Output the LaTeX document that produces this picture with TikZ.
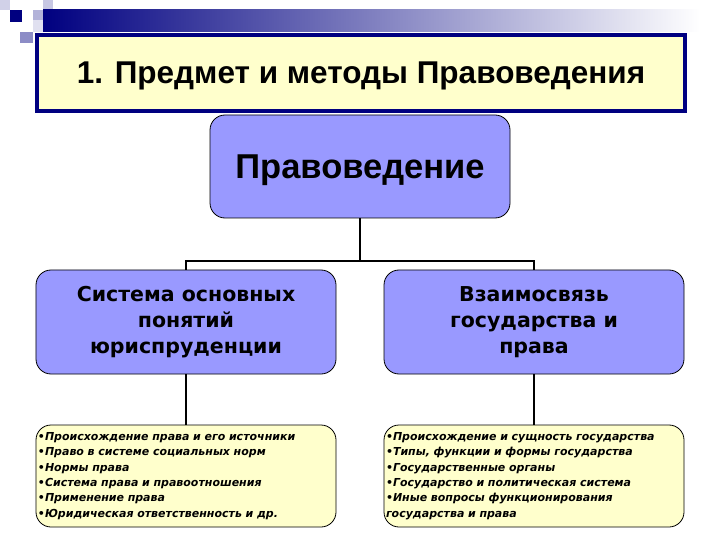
\documentclass[tikz,border=0pt]{standalone}
\usepackage{fontspec}
\setmainfont{Liberation Sans}
\newfontfamily\boxfont{DejaVu Sans}

\definecolor{navy}{HTML}{000080}
\definecolor{lilac}{HTML}{9999FF}
\definecolor{cream}{HTML}{FFFFCC}

\tikzset{
  titlebox/.style={draw=navy, line width=4bp, fill=cream, minimum width=648bp, minimum height=76bp,
                   inner sep=0pt, text depth=0pt, font=\fontsize{31.5bp}{36bp}\selectfont\bfseries},
  mainbox/.style={draw=black, line width=0.8bp, fill=lilac, rounded corners=15bp, minimum width=300bp,
                  minimum height=103bp, inner sep=0pt, text depth=0pt,
                  font=\fontsize{34.5bp}{40bp}\selectfont\bfseries},
  topicbox/.style={draw=black, line width=0.8bp, fill=lilac, rounded corners=15bp, minimum width=300bp,
                   minimum height=104bp, inner sep=0pt, align=center,
                   font=\boxfont\fontsize{20.5bp}{26bp}\selectfont\bfseries},
  listbox/.style={draw=black, line width=0.8bp, fill=cream, rounded corners=15bp, minimum width=300bp,
                  minimum height=102bp, inner sep=2bp, align=left, text width=296bp,
                  font=\boxfont\fontsize{11bp}{15.4bp}\selectfont\bfseries\itshape},
  link/.style={draw=black, line width=2bp}
}

\begin{document}
\begin{tikzpicture}[x=1bp,y=-1bp]
\useasboundingbox (0,0) rectangle (720,540);

% decoration in the corner
\fill[navy!18] (0,0) rectangle (10,10);
\fill[navy!22] (43,0) rectangle (53,10);
\fill[navy!30] (33,10) rectangle (53,20);
\fill[navy] (10,10) rectangle (22,22);
\fill[navy!12] (33,20) rectangle (43,32);
\fill[navy!45] (20,32) rectangle (33,43);
\shade[left color=navy, right color=white] (43,10) rectangle (700,32);

% heading
\node[titlebox] (ttl) at (361,73) {1. Предмет и методы Правоведения};

% boxes
\node[mainbox] (pv) at (360,166.5) {Правоведение};
\node[topicbox] (sys) at (186,322) {Система основных\\понятий\\юриспруденции};
\node[topicbox] (vz) at (534,322) {Взаимосвязь\\государства и\\права};
\node[listbox] (sysl) at (186,476) {•Происхождение права и его источники\\
  •Право в системе социальных норм\\
  •Нормы права\\
  •Система права и правоотношения\\
  •Применение права\\
  •Юридическая ответственность и др.};
\node[listbox] (vzl) at (534,476) {•Происхождение и сущность государства\\
  •Типы, функции и формы государства\\
  •Государственные органы\\
  •Государство и политическая система\\
  •Иные вопросы функционирования\\
  государства и права};

% links
\coordinate (fork) at (360,261);
\draw[link] (pv.south) -- (fork);
\draw[link] (fork) -| (sys.north);
\draw[link] (fork) -| (vz.north);
\draw[link] (sys.south) -- (sysl.north);
\draw[link] (vz.south) -- (vzl.north);
\end{tikzpicture}
\end{document}
